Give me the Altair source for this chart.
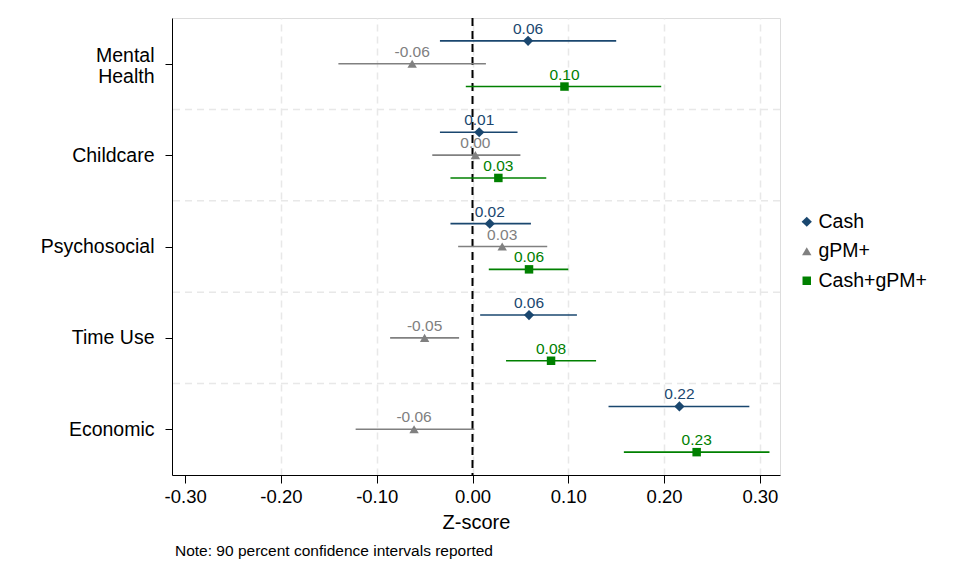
import json
import altair as alt
import pandas as pd

# Outcome families, top to bottom
categories = ["Mental Health", "Childcare", "Psychosocial", "Time Use", "Economic"]
category_lines = [["Mental", "Health"], ["Childcare"], ["Psychosocial"], ["Time Use"], ["Economic"]]

# Treatment arms
arms = ["Cash", "gPM+", "Cash+gPM+"]
arm_colors = ["#1a476f", "#808080", "#008000"]
arm_shapes = ["diamond", "triangle-up", "square"]
arm_sizes = [105, 72, 66]
arm_offsets = [-0.25, 0.0, 0.25]

# Point estimates (standardised effects) and 90% confidence bounds
cash_est = [0.058, 0.007, 0.018, 0.059, 0.216]
cash_lo = [-0.034, -0.034, -0.023, 0.008, 0.142]
cash_hi = [0.150, 0.047, 0.061, 0.109, 0.289]

gpm_est = [-0.063, 0.003, 0.031, -0.050, -0.061]
gpm_lo = [-0.140, -0.042, -0.015, -0.086, -0.122]
gpm_hi = [0.014, 0.050, 0.078, -0.014, 0.002]

combo_est = [0.096, 0.027, 0.059, 0.082, 0.234]
combo_lo = [-0.007, -0.023, 0.017, 0.035, 0.158]
combo_hi = [0.197, 0.077, 0.100, 0.129, 0.310]

x_ticks = [-0.3, -0.2, -0.1, 0.0, 0.1, 0.2, 0.3]
note_text = "Note: 90 percent confidence intervals reported"

series = [
    (cash_est, cash_lo, cash_hi),
    (gpm_est, gpm_lo, gpm_hi),
    (combo_est, combo_lo, combo_hi),
]
rows = []
for arm, off, (est, lo, hi) in zip(arms, arm_offsets, series):
    for i, cat in enumerate(categories):
        rows.append({"arm": arm, "cat": cat, "pos": i + off,
                     "est": est[i], "lo": lo[i], "hi": hi[i]})
df = pd.DataFrame(rows)

# Horizontal separators between outcome bands
boundaries = pd.DataFrame({"b": [i + 0.5 for i in range(len(categories) - 1)]})

FONT = "Liberation Sans"

x_scale = alt.Scale(domain=[-0.3137, 0.321], nice=False, zero=False)
y_scale = alt.Scale(domain=[-0.5, len(categories) - 0.5], reverse=True, nice=False, zero=False)

color_enc = alt.Color(
    "arm:N",
    scale=alt.Scale(domain=arms, range=arm_colors),
    legend=alt.Legend(
        title=None, orient="none", legendX=625, legendY=194,
        labelFontSize=19.5, labelFont=FONT, labelColor="black",
        symbolSize=80, symbolStrokeWidth=0, rowPadding=8.5,
        labelOffset=2, padding=0,
    ),
)
shape_enc = alt.Shape("arm:N", scale=alt.Scale(domain=arms, range=arm_shapes))
size_enc = alt.Size("arm:N", scale=alt.Scale(domain=arms, range=arm_sizes), legend=None)

x_axis = alt.Axis(
    values=x_ticks, format=".2f",
    labelExpr="replace(datum.label, '\u2212', '-')",
    title="Z-score", titleFontSize=20, titleFont=FONT, titleFontWeight="normal",
    titleColor="black", titlePadding=7,
    labelFontSize=18.5, labelFont=FONT, labelColor="black", labelPadding=4,
    tickSize=8, tickColor="black", domainColor="black",
    grid=True, gridColor="#e8e8e8", gridDash=[7, 5], gridWidth=1.5,
    gridOpacity=alt.condition("datum.value < -0.25", alt.value(0), alt.value(1)),
)
y_axis = alt.Axis(
    values=list(range(len(categories))),
    labelExpr=json.dumps(category_lines) + "[datum.value]",
    title=None, labelFontSize=19.5, labelFont=FONT, labelColor="black",
    labelLineHeight=21, labelPadding=11,
    labelOffset=alt.condition("datum.value == 0", alt.value(-8), alt.value(0)),
    tickSize=7, tickColor="black", domainColor="black", grid=False,
)

base = alt.Chart(df)

band_lines = alt.Chart(boundaries).mark_rule(
    color="#e8e8e8", strokeDash=[7, 5], strokeWidth=1.5
).encode(y=alt.Y("b:Q", scale=y_scale, axis=y_axis))

zero_line = alt.Chart(pd.DataFrame({"z": [0.0]})).mark_rule(
    color="black", strokeDash=[8, 5], strokeWidth=2
).encode(x=alt.X("z:Q", scale=x_scale, axis=x_axis))

bars = base.mark_rule(strokeWidth=1.6).encode(
    x=alt.X("lo:Q", scale=x_scale, axis=x_axis),
    x2="hi:Q",
    y=alt.Y("pos:Q", scale=y_scale, axis=y_axis),
    color=color_enc,
)

points = base.mark_point(filled=True, opacity=1).encode(
    x=alt.X("est:Q", scale=x_scale, axis=x_axis),
    y=alt.Y("pos:Q", scale=y_scale, axis=y_axis),
    color=color_enc,
    shape=shape_enc,
    size=size_enc,
)

labels = base.transform_calculate(
    lbl="replace(format(datum.est, '.2f'), '\u2212', '-')"
).mark_text(dy=-12, fontSize=15.5, font=FONT).encode(
    x=alt.X("est:Q", scale=x_scale, axis=x_axis),
    y=alt.Y("pos:Q", scale=y_scale, axis=y_axis),
    text="lbl:N",
    color=alt.Color("arm:N", scale=alt.Scale(domain=arms, range=arm_colors), legend=None),
)

note = alt.Chart(pd.DataFrame({"note": [note_text]})).mark_text(
    align="left", baseline="middle", fontSize=15.5, font=FONT, color="black"
).encode(x=alt.value(3), y=alt.value(533), text="note:N")

chart = alt.layer(band_lines, zero_line, bars, points, labels, note).properties(
    width=608, height=457,
    autosize=alt.AutoSizeParams(type="none"),
    padding={"left": 172, "top": 18, "right": 195, "bottom": 110},
).configure_view(stroke=None).configure(background="white")

chart.save("out.html", embed_options={"renderer": "svg", "actions": False})
